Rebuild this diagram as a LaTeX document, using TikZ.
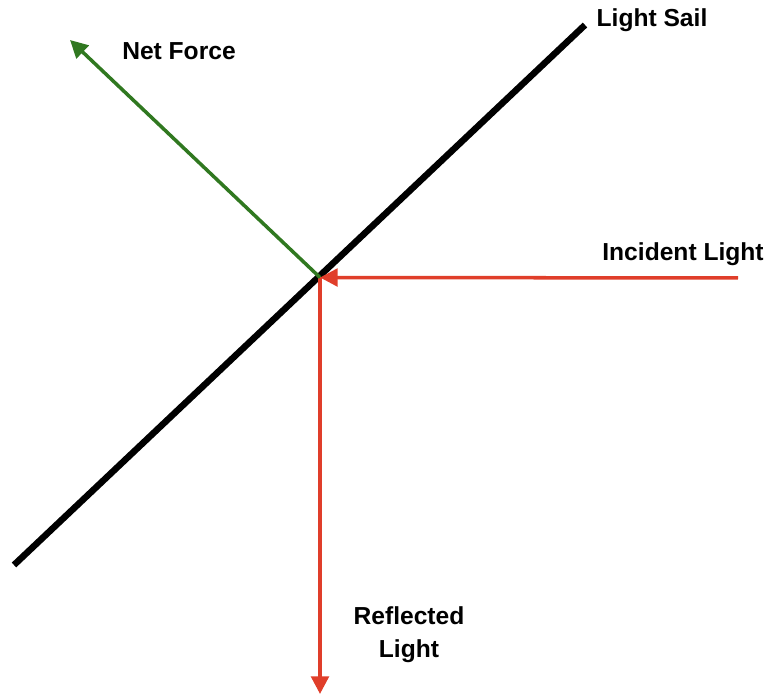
\documentclass[tikz,border=0pt]{standalone}
\usepackage{fontspec}
\setmainfont{Liberation Sans}
\usetikzlibrary{positioning,arrows.meta}
\definecolor{rayred}{RGB}{224,62,42}
\definecolor{forcegreen}{RGB}{48,120,32}
\tikzset{lbl/.style={font=\bfseries\fontsize{14}{17}\selectfont,align=center,inner sep=0pt},
ray/.style={rayred,line width=2pt,-{Triangle[length=10pt,width=10pt]}}}

\begin{document}
\begin{tikzpicture}
 	   		\useasboundingbox (0,0) rectangle (15.4,13.92);
 	   		\coordinate (sailA) at (0.28,2.62);
 	   		\coordinate (sailB) at (11.70,13.42);
 	   		\coordinate (hit) at (6.40,8.37);
 	   		\coordinate (src) at (14.76,8.36);
 	   		\coordinate (down) at (6.40,0.04);
 	   		\coordinate (push) at (1.40,13.12);
 	   		
 	   	\draw[line width=3.7pt] (sailA)--(sailB);
 	   	\draw[ray] (src)--(hit);
 	   	\draw[ray] (hit)--(down);
 	   	\draw[forcegreen,line width=2pt,-{Triangle[length=10pt,width=10pt]}] (hit)--(push);
 	   	
 	   	\node[lbl] (sail) at (13.04,13.52) {Light Sail};
 	   	\node[lbl] (force) at (3.58,12.90) {Net Force};
 	   	\node[lbl] (inc) at (13.66,8.84) {Incident Light};
 	   	\node[lbl,align=center] (refl) at (8.18,1.22) {Reflected\\[2pt]Light};
 	   		\end{tikzpicture}
\end{document}
